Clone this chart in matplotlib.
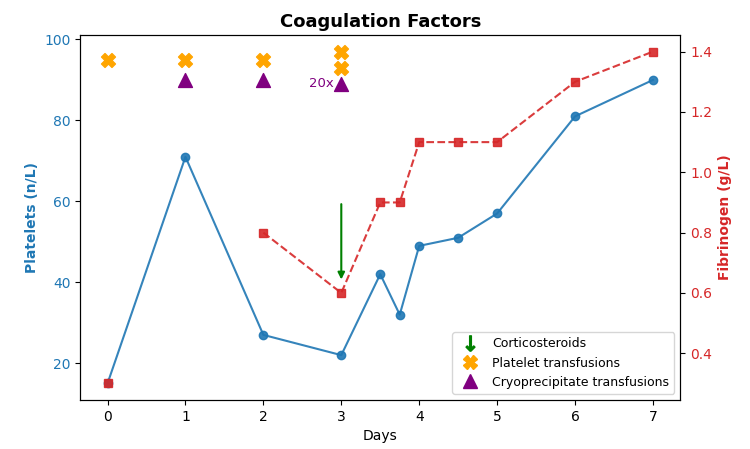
import numpy as np
import matplotlib
matplotlib.use("Agg")
import matplotlib.pyplot as plt
from matplotlib.lines import Line2D

# platelets (n/L)
plt_days = [0, 1, 2, 3, 3.5, 3.75, 4, 4.5, 5, 6, 7]
platelets = [15, 71, 27, 22, 42, 32, 49, 51, 57, 81, 90]

# fibrinogen (g/L) - not measured on day 1
fib_days = [0, 1, 2, 3, 3.5, 3.75, 4, 4.5, 5, 6, 7]
fibrinogen = [0.3, np.nan, 0.8, 0.6, 0.9, 0.9, 1.1, 1.1, 1.1, 1.3, 1.4]

# transfusion events (drawn on platelet axis)
platelet_tx_days = [0, 1, 2, 3, 3]
platelet_tx_y = [95, 95, 95, 97, 93]
cryo_tx_days = [1, 2, 3]
cryo_tx_y = [90, 90, 89]

steroid_day = 3
steroid_from, steroid_to = 60, 40

fig, ax = plt.subplots(figsize=(7.5, 4.49), dpi=100)
fig.subplots_adjust(left=0.107, right=0.907, top=0.922, bottom=0.109)

ax.plot(plt_days, platelets, color='tab:blue', marker='o', markersize=6, linewidth=1.5, alpha=0.9)
ax.scatter(platelet_tx_days, platelet_tx_y, marker='X', s=100, color='orange', zorder=3)
ax.scatter(cryo_tx_days, cryo_tx_y, marker='^', s=100, color='purple', zorder=3)
ax.text(2.9, 89, '20x', color='purple', ha='right', va='center', fontsize=9.5)
ax.annotate('', xy=(steroid_day, steroid_to), xytext=(steroid_day, steroid_from),
            arrowprops=dict(arrowstyle='-|>', color='green', lw=1.5))

ax.set_xlabel('Days')
ax.set_ylabel('Platelets (n/L)', color='tab:blue', fontweight='bold')
ax.tick_params(axis='y', labelcolor='tab:blue')
ax.set_xticks(range(0, 8))

ax2 = ax.twinx()
ax2.plot(fib_days, fibrinogen, color='tab:red', marker='s', markersize=6,
         linewidth=1.5, linestyle='--', alpha=0.9)
ax2.set_ylabel('Fibrinogen (g/L)', color='tab:red', fontweight='bold')
ax2.tick_params(axis='y', labelcolor='tab:red')

ax.set_title('Coagulation Factors', fontsize=13, fontweight='bold')

handles = [
    Line2D([], [], linestyle='none', marker=r'$\downarrow$', color='green', markersize=11),
    Line2D([], [], linestyle='none', marker='X', color='orange', markersize=10),
    Line2D([], [], linestyle='none', marker='^', color='purple', markersize=10),
]
ax2.legend(handles, ['Corticosteroids', 'Platelet transfusions', 'Cryoprecipitate transfusions'],
           loc='lower right', fontsize=9)

plt.savefig('out.png', dpi=100)
